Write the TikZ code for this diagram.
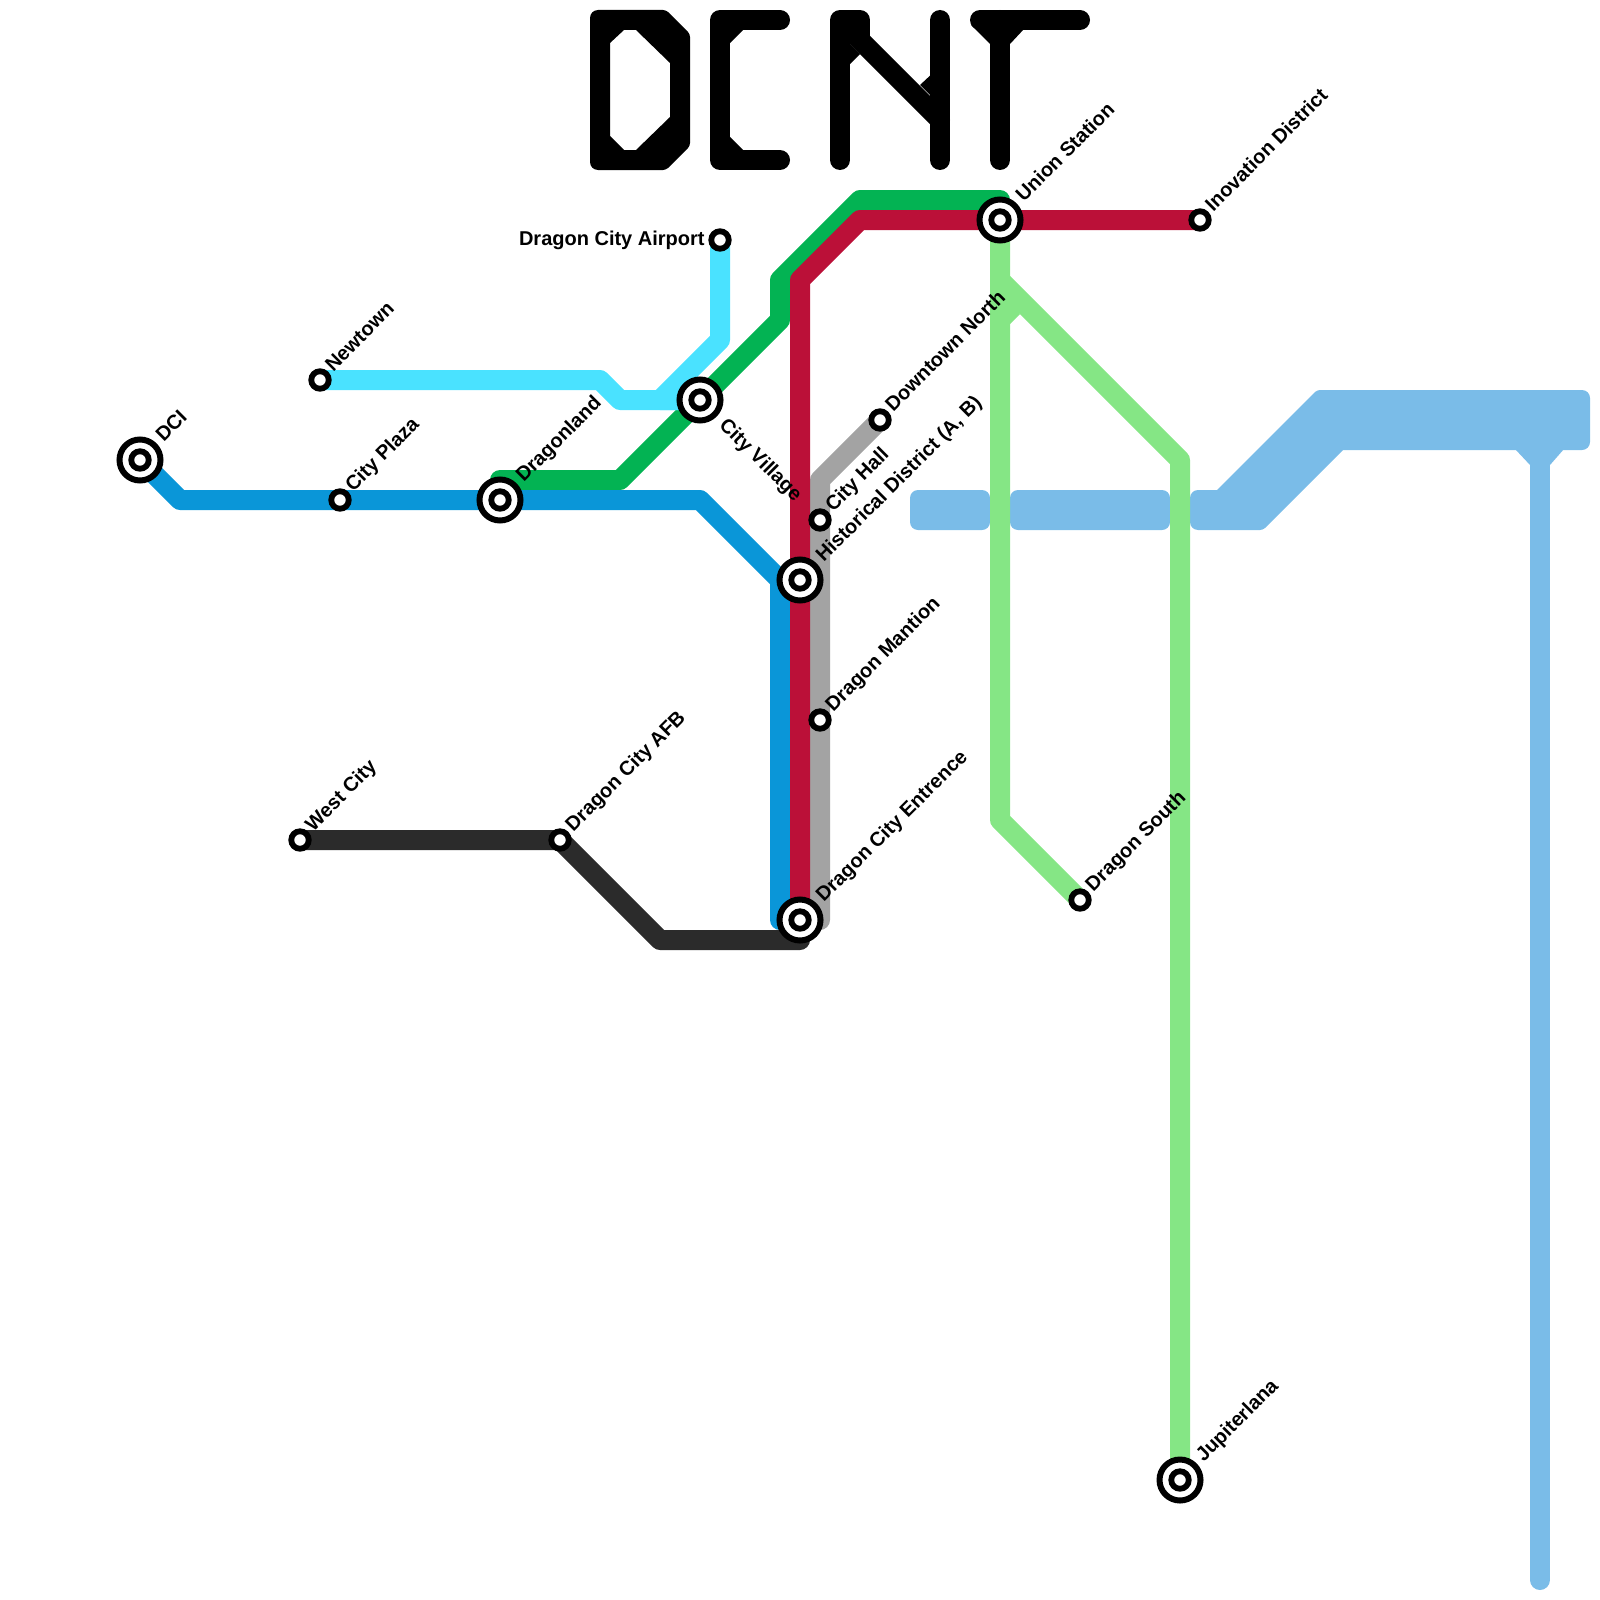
\documentclass[tikz,border=0pt]{standalone}
\usepackage{fontspec}
\setmainfont{Liberation Sans}
\definecolor{ligneBleue}{HTML}{0A96D8}
\definecolor{ligneRouge}{HTML}{BB1038}
\definecolor{ligneVerte}{HTML}{03B353}
\definecolor{ligneCyan}{HTML}{4AE2FF}
\definecolor{ligneGrise}{HTML}{A3A3A3}
\definecolor{ligneClaire}{HTML}{85E685}
\definecolor{ligneCiel}{HTML}{7ABCE8}
\definecolor{ligneNoire}{HTML}{2B2B2B}
\tikzset{
	ligne/.style={line width=10pt, line cap=round, line join=round},
	lettre/.style={line width=10pt, line cap=round, line join=round, black},
	anneau/.style={circle, draw=black, fill=white, inner sep=0pt, minimum size=20.5pt, line width=3pt},
	gare/.style={circle, draw=black, fill=white, inner sep=0pt, minimum size=8.75pt, line width=2.9pt},
	nom/.style={anchor=base west, inner sep=0pt, font=\bfseries\fontsize{10}{12}\selectfont},
	nomPetit/.style={xshift=6.5pt, yshift=3.75pt, nom, rotate=45},
	nomGrand/.style={xshift=11.75pt, yshift=8.5pt, nom, rotate=45}
}
\begin{document}
\begin{tikzpicture}[x=0.5pt, y=-0.5pt]
	\useasboundingbox (0,0) rectangle (1600,1600);

	% --- Stations ---
	\foreach \s/\x/\y in {dci/140/460, plaza/340/500, dragonland/500/500, village/700/400, newtown/320/380,
		airport/720/240, union/1000/220, inovation/1200/220, historical/800/580, cityhall/820/520,
		downtown/880/420, mantion/820/720, entrence/800/920, westcity/300/840, afb/560/840,
		south/1080/900, jupiterlana/1180/1480}
		\coordinate (\s) at (\x,\y);

	% --- Ligne ciel (blocs) ---
	\fill[ligneCiel, rounded corners=4pt] (910,490) -- (990,490) -- (990,530) -- (910,530) -- cycle;
	\fill[ligneCiel, rounded corners=4pt] (1010,490) -- (1170,490) -- (1170,530) -- (1010,530) -- cycle;
	\fill[ligneCiel] (1190,510) [rounded corners=4pt] -- (1190,490) [sharp corners] -- (1217,490) [rounded corners=1.5pt] -- (1317,390) [rounded corners=4pt] -- (1590,390) -- (1590,450) [sharp corners] -- (1343,450) [rounded corners=1.5pt] -- (1263,530) [rounded corners=4pt] -- (1190,530) -- cycle;
	\fill[ligneCiel] (1515,449) -- (1530,465) -- (1550,465) -- (1564,449) -- cycle;
	\draw[ligne, ligneCiel] (1540,450) -- (1540,1580);

	% --- Lignes ---
	\draw[ligne, ligneClaire] (union) -- (1000,820) -- (south);
	\draw[ligne, ligneClaire] (1000,280) -- (1180,460) -- (jupiterlana);
	\fill[ligneClaire] (1010,324) -- (1020,314) -- (1010,300) -- cycle;
	\draw[ligne, ligneVerte] (dragonland) -- (500,480) -- (620,480) -- (village) -- (780,320) -- (780,280) -- (860,200) -- (1000,200) -- (union);
	\draw[ligne, ligneCyan] (newtown) -- (600,380) -- (620,400) -- (village);
	\draw[ligne, ligneCyan] (airport) -- (720,340) -- (660,400) -- (village);
	\draw[ligne, ligneBleue] (dci) -- (180,500) -- (plaza) -- (dragonland) -- (700,500) -- (780,580) -- (780,920);
	\draw[ligne, ligneGrise] (downtown) -- (820,480) -- (cityhall) -- (mantion) -- (820,920);
	\draw[ligne, ligneNoire] (westcity) -- (afb) -- (660,940) -- (800,940) -- (entrence);
	\draw[ligne, ligneRouge] (entrence) -- (historical) -- (800,280) -- (860,220) -- (union) -- (inovation);

	% --- Gares ---
	\foreach \s in {dci, dragonland, village, union, historical, entrence, jupiterlana}
		\node[anneau] (\s-a) at (\s) {};
	\foreach \s in {dci, plaza, dragonland, village, newtown, airport, union, inovation, historical, cityhall,
		downtown, mantion, entrence, westcity, afb, south, jupiterlana}
		\node[gare] (\s-g) at (\s) {};

	% --- Noms ---
	\node[nomGrand] (dci-n) at (dci) {DCI};
	\node[nomPetit] (plaza-n) at (plaza) {City Plaza};
	\node[nomGrand] (dragonland-n) at (dragonland) {Dragonland};
	\node[xshift=9pt, yshift=-13pt, nom, rotate=-45] (village-n) at (village) {City Village};
	\node[nomPetit] (newtown-n) at (newtown) {Newtown};
	\node[nom, anchor=base east, xshift=-7.5pt, yshift=-2.5pt] (airport-n) at (airport) {Dragon City Airport};
	\node[nomGrand] (union-n) at (union) {Union Station};
	\node[nomPetit] (inovation-n) at (inovation) {Inovation District};
	\node[nomGrand] (historical-n) at (historical) {Historical District (A, B)};
	\node[nomPetit] (cityhall-n) at (cityhall) {City Hall};
	\node[nomPetit] (downtown-n) at (downtown) {Downtown North};
	\node[nomPetit] (mantion-n) at (mantion) {Dragon Mantion};
	\node[nomGrand] (entrence-n) at (entrence) {Dragon City Entrence};
	\node[nomPetit] (westcity-n) at (westcity) {West City};
	\node[nomPetit] (afb-n) at (afb) {Dragon City AFB};
	\node[nomPetit] (south-n) at (south) {Dragon South};
	\node[nomGrand] (jupiterlana-n) at (jupiterlana) {Jupiterlana};

	% --- Lettres du titre ---
	% D
	\fill[black, even odd rule] (590,100) [rounded corners=4pt] -- (590,10) [rounded corners=1.5pt] -- (666,10) -- (690,34) -- (690,146) -- (666,170) [rounded corners=4pt] -- (590,170) -- cycle
		[sharp corners] (610,43) -- (624,30) -- (636,30) -- (670,63) -- (670,117) -- (636,150) -- (624,150) -- (610,136) -- cycle;
	% C
	\draw[lettre] (780,20) -- (720,20) -- (720,160) -- (780,160);
	\fill[black] (725,29) -- (744,29) -- (725,48) -- cycle;
	\fill[black] (725,151) -- (744,151) -- (725,132) -- cycle;
	% N
	\draw[lettre] (840,160) -- (840,20) -- (860,20) -- (860,36);
	\draw[lettre] (850,30) -- (940,120);
	\draw[lettre] (940,160) -- (940,20);
	\fill[black] (845,69) -- (860,54) -- (845,39) -- cycle;
	\fill[black] (920,85) -- (935,71) -- (935,100) -- cycle;
	% T
	\draw[lettre] (980,20) -- (1080,20);
	\draw[lettre] (1000,20) -- (1000,160);
	\fill[black] (971,25) -- (990,44) -- (1010,44) -- (1024,29) -- (1000,20) -- cycle;
\end{tikzpicture}
\end{document}
